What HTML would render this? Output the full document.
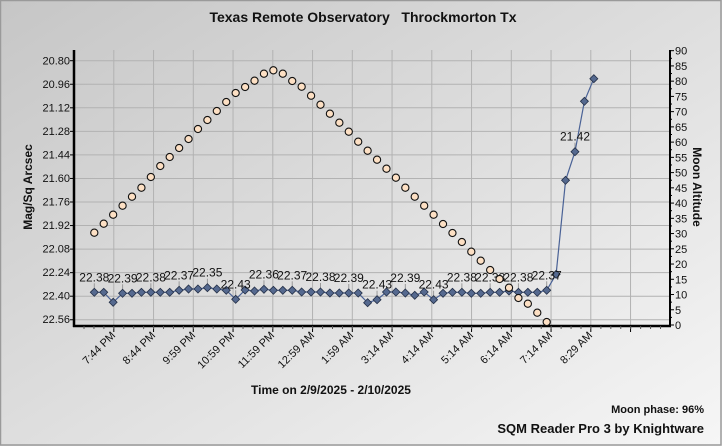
<!DOCTYPE html>
<html><head><meta charset="utf-8"><style>
html,body{margin:0;padding:0;width:722px;height:446px;overflow:hidden}
svg{display:block;font-family:"Liberation Sans",Arial,sans-serif}
</style></head><body>
<svg id="s" width="722" height="446" viewBox="0 0 722 446" xmlns="http://www.w3.org/2000/svg">
<defs>
<linearGradient id="bg" x1="0" y1="0" x2="1" y2="1">
<stop offset="0" stop-color="#c6c6c6"/><stop offset="1" stop-color="#f6f6f6"/>
</linearGradient>
</defs>
<rect x="0" y="0" width="722" height="446" fill="url(#bg)"/>
<rect x="0.5" y="0.5" width="720.5" height="444.5" fill="none" stroke="#9a9a9a" stroke-width="1.5"/>
<g id="grid" stroke="#b2b2b2" stroke-width="1"></g>
<text x="363" y="22" text-anchor="middle" font-size="14" font-weight="bold" fill="#111">Texas Remote Observatory&#160;&#160;&#160;Throckmorton Tx</text>
<g font-size="11" fill="#111" text-anchor="end">
<text x="70" y="64.5">20.80</text><text x="70" y="88">20.96</text><text x="70" y="111.5">21.12</text><text x="70" y="135">21.28</text><text x="70" y="158.5">21.44</text><text x="70" y="182">21.60</text><text x="70" y="205.5">21.76</text><text x="70" y="229">21.92</text><text x="70" y="252.5">22.08</text><text x="70" y="276">22.24</text><text x="70" y="299.5">22.40</text><text x="70" y="323">22.56</text>
</g>
<g font-size="11" fill="#111" id="rt"></g>
<text transform="translate(32,187) rotate(-90)" text-anchor="middle" font-size="12" font-weight="bold" fill="#111">Mag/Sq Arcsec</text>
<text transform="translate(693,187) rotate(90)" text-anchor="middle" font-size="12" font-weight="bold" fill="#111">Moon Altitude</text>
<g font-size="11" fill="#111" text-anchor="end">
<text transform="translate(116,336) rotate(-45)">7:44 PM</text>
<text transform="translate(156,336) rotate(-45)">8:44 PM</text>
<text transform="translate(196,336) rotate(-45)">9:59 PM</text>
<text transform="translate(235,336) rotate(-45)">10:59 PM</text>
<text transform="translate(275,336) rotate(-45)">11:59 PM</text>
<text transform="translate(315,336) rotate(-45)">12:59 AM</text>
<text transform="translate(354,336) rotate(-45)">1:59 AM</text>
<text transform="translate(394,336) rotate(-45)">3:14 AM</text>
<text transform="translate(434,336) rotate(-45)">4:14 AM</text>
<text transform="translate(474,336) rotate(-45)">5:14 AM</text>
<text transform="translate(513,336) rotate(-45)">6:14 AM</text>
<text transform="translate(553,336) rotate(-45)">7:14 AM</text>
<text transform="translate(593,336) rotate(-45)">8:29 AM</text>
</g>
<text x="331" y="394" text-anchor="middle" font-size="12" font-weight="bold" fill="#111">Time on 2/9/2025 - 2/10/2025</text>
<text x="704" y="413" text-anchor="end" font-size="11" font-weight="bold" fill="#111">Moon phase: 96%</text>
<text x="704" y="433" text-anchor="end" font-size="13" font-weight="bold" fill="#111">SQM Reader Pro 3 by Knightware</text>
<g id="axes"></g>
<g id="data"></g>
<g id="lbl" font-size="12" fill="#111" text-anchor="middle">
<text x="94.3" y="281.3">22.38</text>
<text x="122.6" y="282.3">22.39</text>
<text x="150.9" y="281.3">22.38</text>
<text x="179.1" y="279.3">22.37</text>
<text x="207.4" y="276.7">22.35</text>
<text x="235.7" y="288.3">22.43</text>
<text x="263.9" y="278.3">22.36</text>
<text x="292.2" y="279.3">22.37</text>
<text x="320.5" y="281">22.38</text>
<text x="348.8" y="282">22.39</text>
<text x="377.1" y="288.7">22.43</text>
<text x="405.3" y="282">22.39</text>
<text x="433.6" y="288.7">22.43</text>
<text x="461.9" y="281.3">22.38</text>
<text x="490.2" y="281.3">22.38</text>
<text x="518.4" y="281.3">22.38</text>
<text x="546.7" y="279.3">22.37</text>
<text x="575.0" y="140.7">21.42</text>
</g>
<g id="circ"></g>
</svg>
<script>
var NS="http://www.w3.org/2000/svg";
function el(p,t,a){var e=document.createElementNS(NS,t);for(var k in a)e.setAttribute(k,a[k]);document.getElementById(p).appendChild(e);return e;}
for(var k=0;k<12;k++){var y=60.7+23.55*k;el("grid","line",{x1:74,x2:670,y1:y,y2:y});}
for(var k=0;k<14;k++){var x=113.8+39.75*k;el("grid","line",{x1:x,x2:x,y1:50,y2:325});}
for(var v=0;v<=90;v+=5){var y=325-v*3.048;var t=el("rt","text",{x:675,y:y+4});t.textContent=v;
el("axes","line",{x1:670,x2:674,y1:y,y2:y,stroke:"#000","stroke-width":1});
if(v<90){el("axes","line",{x1:670,x2:672,y1:y-7.62,y2:y-7.62,stroke:"#000","stroke-width":1});}}
el("axes","line",{x1:74,x2:74,y1:50,y2:327,stroke:"#000","stroke-width":2.5});
el("axes","line",{x1:670,x2:670,y1:50,y2:327,stroke:"#000","stroke-width":2});
el("axes","line",{x1:73,x2:671,y1:326,y2:326,stroke:"#000","stroke-width":2.5});
for(var k=0;k<14;k++){var x=113.8+39.75*k;el("axes","line",{x1:x,x2:x,y1:326,y2:332,stroke:"#000","stroke-width":1});}
for(var x=84;x<670;x+=9.94){el("axes","line",{x1:x,x2:x,y1:326,y2:329,stroke:"#555","stroke-width":1});}
for(var k=0;k<12;k++){var y=60.7+23.55*k;el("axes","line",{x1:70,x2:74,y1:y,y2:y,stroke:"#000","stroke-width":1});}
var dy=[292.3,292.3,302.3,293.3,293.3,292.3,292.3,292.3,292.3,290.3,289,289,287.7,289,290.3,299.3,290,291,289.3,290.3,290.3,290.3,292,292,292,293,293,293,293,302.7,299.7,292,292,293,295.3,292,299.7,293.3,292.3,292.3,293.3,293.3,292.3,292.3,291,292.3,292.3,292.3,290.3,274.3,180.3,151.7,101.3,78.7];
var cy=[232.7,223.7,214.7,205.7,196.7,187.7,177,166,157,148,139,129,120,111,102,93,87,80.7,73.7,70.3,73.7,81,86.7,95.7,104.7,113.7,122.7,131.7,141.7,150.7,159.7,168.7,177.7,187.7,196.7,205.7,214.7,224,233,242,251.7,260.7,270,279,287.7,298,303.7,312.7,322];
function X(i){return 94.3+9.425*i;}
var li=[0,3,6,9,12,15,18,21,24,27,30,33,36,39,42,45,48,51];
li.forEach(function(i){el("data","line",{x1:X(i),x2:X(i),y1:dy[i]-9,y2:dy[i]-2,stroke:"#999","stroke-width":1});});
var pts=dy.map(function(y,i){return X(i).toFixed(1)+","+y;}).join(" ");
el("data","polyline",{points:pts,fill:"none",stroke:"#4a6296","stroke-width":1.2});
dy.forEach(function(y,i){var x=X(i);el("data","polygon",{points:(x)+","+(y-4)+" "+(x+4)+","+y+" "+x+","+(y+4)+" "+(x-4)+","+y,fill:"#55698f",stroke:"#243048","stroke-width":0.8});});
cy.forEach(function(y,i){el("circ","circle",{cx:X(i),cy:y,r:3.6,fill:"#fde0c4",stroke:"#111","stroke-width":1.1});});
</script>
</body></html>
